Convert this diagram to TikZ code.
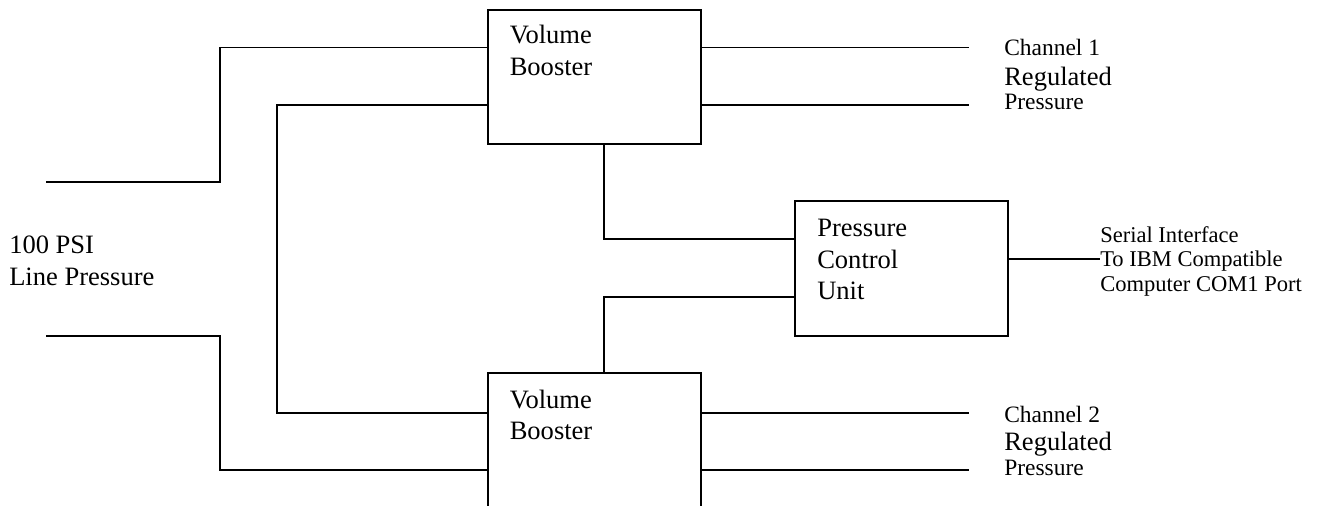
\documentclass[tikz,border=0pt]{standalone}
\usepackage{fontspec}
\setmainfont{Liberation Serif}
\begin{document}
\begin{tikzpicture}[x=0.75pt,y=-0.75pt,
  box/.style={draw, line width=1.2pt, rectangle, inner sep=0pt, minimum width=159.75pt},
  wire/.style={line width=1.2pt},
  big/.style={font=\fontsize{19.9}{24}\selectfont, anchor=base west, inner sep=0pt},
  mid/.style={font=\fontsize{17.6}{21}\selectfont, anchor=base west, inner sep=0pt},
  small/.style={font=\fontsize{16.9}{20}\selectfont, anchor=base west, inner sep=0pt}]
\useasboundingbox (0,0) rectangle (1321,506);
\clip (0,0) rectangle (1321,506);
% boxes
\node[box, minimum height=100.5pt] (vb1) at (594.5,77) {};
\node[box, minimum height=125.25pt] (vb2) at (594.5,456.5) {};
\node[box, minimum height=101.25pt] (pcu) at (901.5,268.5) {};
% helper levels
\coordinate (y1) at (0,47.7);
\coordinate (y2) at (0,105);
\coordinate (y3) at (0,413);
\coordinate (y4) at (0,470);
\coordinate (y5) at (0,239);
\coordinate (y6) at (0,297);
\coordinate (y7) at (0,259);
% free ends
\coordinate (in1) at (46,182);
\coordinate (in2) at (46,336);
\coordinate (o1) at (969,47.7);
\coordinate (o2) at (969,105);
\coordinate (o3) at (969,413);
\coordinate (o4) at (969,470);
\coordinate (s1) at (1100,259);
% connectors
\draw[wire] (in1) -- (220,182) -- (220,47.7) -- (vb1.west |- y1);
\draw[wire] (vb1.west |- y2) -- (277,105) -- (277,413) -- (vb2.west |- y3);
\draw[wire] (in2) -- (220,336) -- (220,470) -- (vb2.west |- y4);
\draw[wire] (vb1.east |- y1) -- (o1);
\draw[wire] (vb1.east |- y2) -- (o2);
\draw[wire] (vb2.east |- y3) -- (o3);
\draw[wire] (vb2.east |- y4) -- (o4);
\draw[wire] ([xshift=7.1pt]vb1.south) |- (pcu.west |- y5);
\draw[wire] ([xshift=7.1pt]vb2.north) |- (pcu.west |- y6);
\draw[wire] (pcu.east |- y7) -- (s1);
% texts
\node[big] (t1) at (509.5,44) {Volume};
\node[big] (t2) at (509.5,76) {Booster};
\node[big] (t3) at (509.5,408) {Volume};
\node[big] (t4) at (509.5,439) {Booster};
\node[big] (t5) at (817,237) {Pressure};
\node[big] (t6) at (817,268) {Control};
\node[big] (t7) at (817,299) {Unit};
\node[big] (t8) at (9,253) {100 PSI};
\node[big] (t9) at (9,285) {Line Pressure};
\node[mid] (c1) at (1004,56) {Channel 1};
\node[big] (c2) at (1004,86) {Regulated};
\node[mid] (c3) at (1004,110) {Pressure};
\node[mid] (d1) at (1004,422) {Channel 2};
\node[big] (d2) at (1004,450) {Regulated};
\node[mid] (d3) at (1004,475) {Pressure};
\node[small] (s1t) at (1100,243) {Serial Interface};
\node[small] (s2t) at (1100,267) {To IBM Compatible};
\node[small] (s3t) at (1100,291) {Computer COM1 Port};
\end{tikzpicture}
\end{document}
